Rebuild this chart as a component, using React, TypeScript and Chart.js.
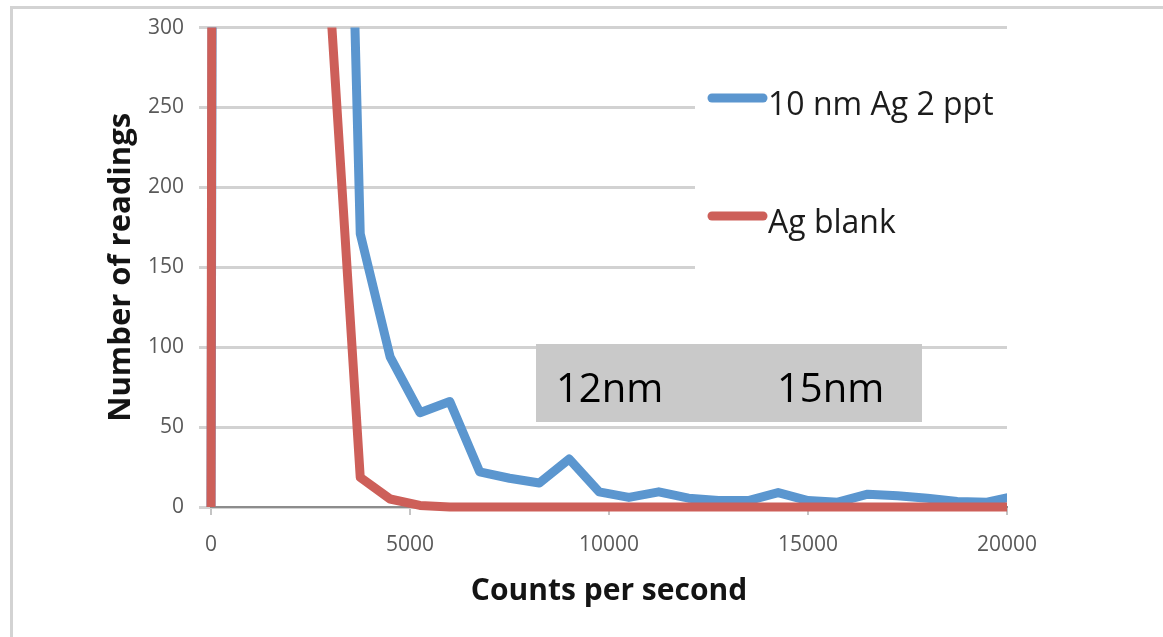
import { useEffect, useRef } from 'react';
import { Chart, registerables } from 'chart.js';

Chart.register(...registerables);

// Bin centres (counts per second)
const countsPerSecond = [
  0, 750, 1500, 2250, 3000, 3750, 4500, 5250, 6000, 6750, 7500, 8250, 9000, 9750,
  10500, 11250, 12000, 12750, 13500, 14250, 15000, 15750, 16500, 17250, 18000, 18750, 19500, 20250,
];
// Number of readings per bin
const silver10nm = [
  0, 8000, 4000, 2000, 900, 171, 94, 59, 66, 22, 18, 15, 30, 9.5,
  6, 9.5, 5.5, 4, 4, 9, 4, 3, 8, 7, 5.5, 3.5, 3, 7,
];
const silverBlank = [
  0, 12000, 3000, 900, 315, 18.5, 5, 1, 0, 0, 0, 0, 0, 0,
  0, 0, 0, 0, 0, 0, 0, 0, 0, 0, 0, 0, 0, 0,
];
const seriesLabels = ['10 nm Ag 2 ppt', 'Ag blank'];
const seriesColors = ['#5b96cf', '#cd5f59'];
const xTickValues = [0, 5000, 10000, 15000, 20000];
const yTickValues = [0, 50, 100, 150, 200, 250, 300];
const sizeLabels = ['12nm', '15nm'];
const xTitle = 'Counts per second';
const yTitle = 'Number of readings';

const FONT = "'Open Sans', 'DejaVu Sans', sans-serif";

const overlayPlugin = {
  id: 'overlay',
  afterDatasetsDraw(chart: any) {
    const ctx = chart.ctx as CanvasRenderingContext2D;
    const area = chart.chartArea;
    ctx.save();
    // legend (sits over the plot area)
    ctx.fillStyle = '#ffffff';
    ctx.fillRect(695, 45, area.right - 695 + 4, 250);
    const rows = [98, 216];
    chart.data.datasets.forEach((ds: any, i: number) => {
      const y = rows[i];
      ctx.strokeStyle = ds.borderColor;
      ctx.lineWidth = 9;
      ctx.lineCap = 'round';
      ctx.beginPath();
      ctx.moveTo(712, y);
      ctx.lineTo(763, y);
      ctx.stroke();
      ctx.fillStyle = '#1c1c1c';
      ctx.font = `32px ${FONT}`;
      ctx.textBaseline = 'alphabetic';
      ctx.textAlign = 'left';
      ctx.fillText(ds.label, 768, y + 17);
    });
    // grey annotation box
    ctx.fillStyle = '#c9c9c9';
    ctx.fillRect(536, 344, 386, 78);
    ctx.fillStyle = '#000000';
    ctx.font = `40px ${FONT}`;
    ctx.fillText(sizeLabels[0], 556, 402);
    ctx.fillText(sizeLabels[1], 777, 402);
    ctx.restore();
  },
};

export default function App() {
  const ref = useRef<HTMLCanvasElement | null>(null);

  useEffect(() => {
    if (!ref.current) return;
    const toPoints = (ys: number[]) => countsPerSecond.map((x, i) => ({ x, y: ys[i] }));
    const clip = { left: false, top: 0, right: 0, bottom: false };
    const chart = new Chart(ref.current, {
      type: 'line',
      data: {
        datasets: [
          {
            label: seriesLabels[0],
            data: toPoints(silver10nm),
            borderColor: seriesColors[0],
            backgroundColor: seriesColors[0],
            borderWidth: 9,
            pointRadius: 0,
            tension: 0,
            borderJoinStyle: 'round',
            order: 1,
            clip,
          } as any,
          {
            label: seriesLabels[1],
            data: toPoints(silverBlank),
            borderColor: seriesColors[1],
            backgroundColor: seriesColors[1],
            borderWidth: 9,
            pointRadius: 0,
            tension: 0,
            borderJoinStyle: 'round',
            order: 0,
            clip,
          } as any,
        ],
      },
      options: {
        animation: false,
        responsive: false,
        devicePixelRatio: 1,
        layout: { padding: { left: 0, top: 27, right: 156, bottom: 0 } },
        plugins: { legend: { display: false }, tooltip: { enabled: false } },
        scales: {
          x: {
            type: 'linear',
            min: 0,
            max: 20000,
            afterFit: (s: any) => { s.height = 130; },
            afterBuildTicks: (s: any) => { s.ticks = xTickValues.map((v) => ({ value: v })); },
            ticks: {
              callback: (v: any) => String(v),
              font: { family: FONT, size: 21 },
              color: '#595959',
              padding: 17,
              maxRotation: 0,
            },
            grid: { drawOnChartArea: false, drawTicks: true, tickLength: 8, color: '#c4c4c4', lineWidth: 2 },
            border: { display: true, color: '#8c8c8c', width: 2 },
            title: {
              display: true,
              text: xTitle,
              font: { family: FONT, size: 30, weight: 'bold' },
              color: '#141414',
              padding: { top: 0, bottom: 28 },
            },
          },
          y: {
            type: 'linear',
            min: 0,
            max: 300,
            afterFit: (s: any) => { s.width = 211; },
            afterBuildTicks: (s: any) => { s.ticks = yTickValues.map((v) => ({ value: v })); },
            ticks: {
              callback: (v: any) => String(v),
              font: { family: FONT, size: 21 },
              color: '#595959',
              padding: 15,
            },
            grid: { color: '#d2d2d2', lineWidth: 3, tickLength: 12, drawTicks: true },
            border: { display: false },
            title: {
              display: true,
              text: yTitle,
              font: { family: FONT, size: 31, weight: 'bold' },
              color: '#141414',
              padding: { top: 103, bottom: 0 },
            },
          },
        },
      } as any,
      plugins: [overlayPlugin],
    });
    return () => chart.destroy();
  }, []);

  return (
    <div style={{ position: 'fixed', left: 0, top: 0, width: 1163, height: 637, overflow: 'hidden', background: '#fff' }}>
      <div
        style={{
          position: 'absolute',
          left: 10,
          top: 6,
          width: 1300,
          height: 800,
          borderTop: '3px solid #d3d3d3',
          borderLeft: '3px solid #d3d3d3',
        }}
      />
      <canvas ref={ref} width={1163} height={637} style={{ position: 'absolute', left: 0, top: 0, display: 'block' }} />
    </div>
  );
}
